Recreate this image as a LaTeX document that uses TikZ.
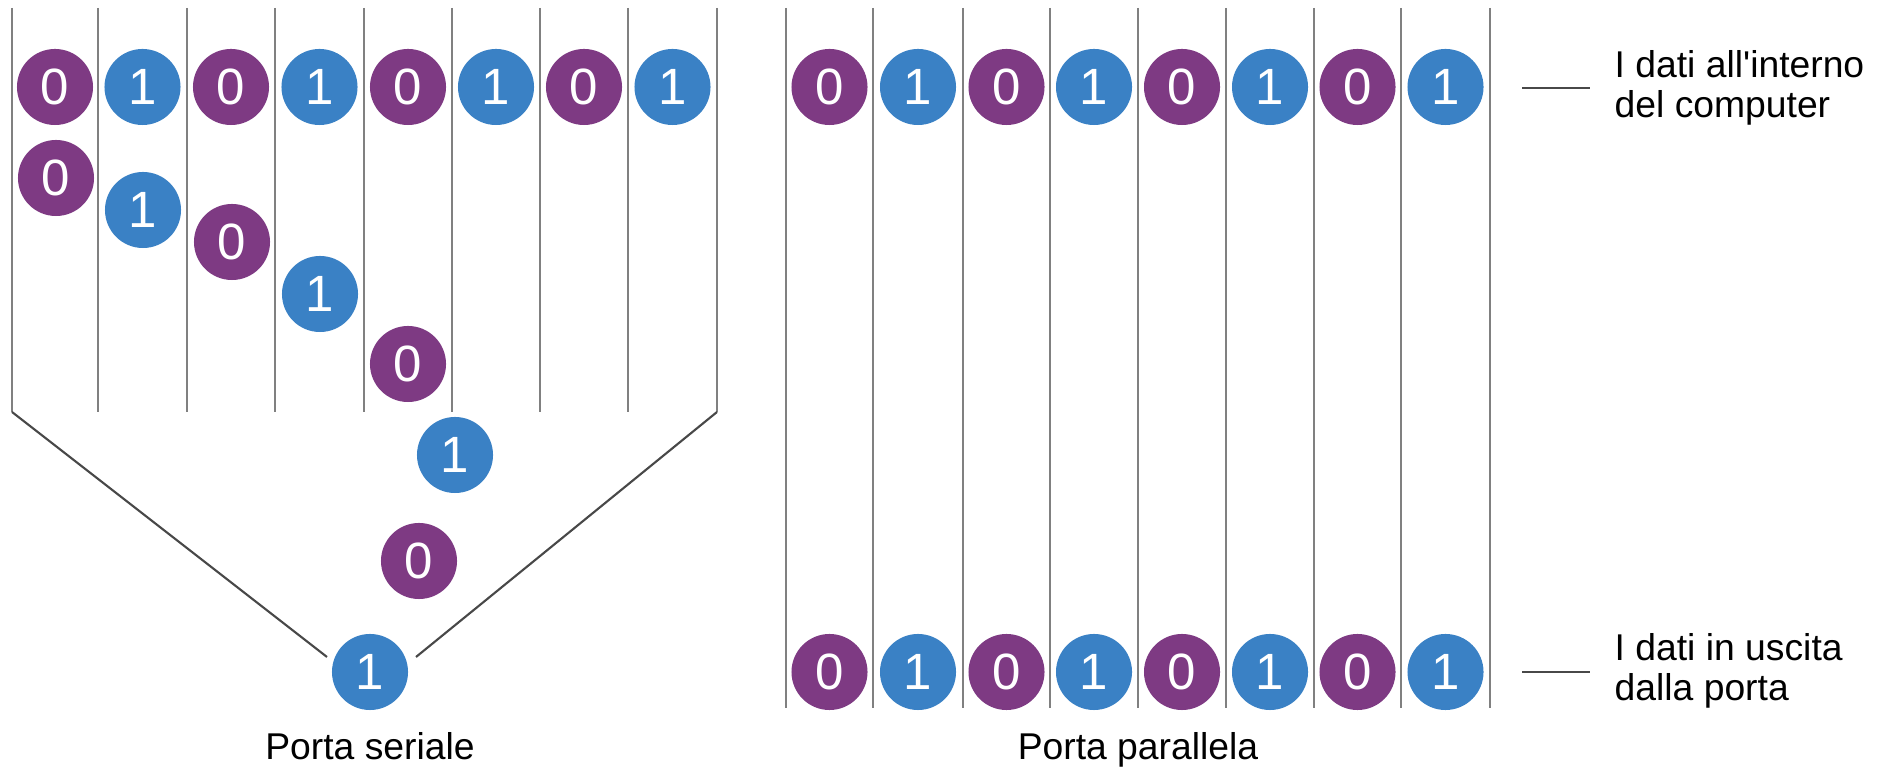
\documentclass[tikz,border=0pt]{standalone}
\usepackage{fontspec}
\setmainfont{Liberation Sans}

% bit colours and line greys
\definecolor{bitzero}{RGB}{126,58,131}
\definecolor{bitone}{RGB}{58,129,197}
\definecolor{wire}{RGB}{128,128,128}
\definecolor{edge}{RGB}{72,72,72}

\tikzset{
  bit/.style={circle, minimum size=7.6mm, inner sep=0pt, text=white,
              font=\fontsize{14.5}{16}\selectfont},
  b0/.style={bit, fill=bitzero},
  b1/.style={bit, fill=bitone},
  wireline/.style={draw=wire, line width=0.8pt},
  funnel/.style={draw=edge, line width=0.6pt},
  tick/.style={draw=edge, line width=0.7pt},
  caption/.style={font=\fontsize{10.6}{12}\selectfont, anchor=base, inner sep=0pt},
  note/.style={font=\fontsize{10.6}{11.4}\selectfont, align=left,
               anchor=north west, inner sep=0pt},
}

\begin{document}
\begin{tikzpicture}[x=0.01cm, y=-0.01cm]
  \useasboundingbox (0,0) rectangle (1894,771);

  % ---------- serial port ----------
  % inner channel walls
  \foreach \x [count=\i] in {98,187,275,364,452,540,628} {
    \coordinate (sw\i a) at (\x,8);
    \coordinate (sw\i b) at (\x,412);
    \draw[wireline] (sw\i a) -- (sw\i b);
  }
  % outer walls narrowing into the funnel
  \coordinate (sLa) at (12,8);
  \coordinate (sLb) at (12,412);
  \coordinate (sLc) at (327,657);
  \coordinate (sRa) at (717,8);
  \coordinate (sRb) at (717,412);
  \coordinate (sRc) at (416,657);
  \draw[wireline] (sLa) -- (sLb);
  \draw[wireline] (sRa) -- (sRb);
  \draw[funnel] (sLb) -- (sLc);
  \draw[funnel] (sRb) -- (sRc);

  % byte inside the computer
  \foreach \x/\b [count=\i] in {55/0,142.5/1,231/0,319.5/1,408/0,496/1,584/0,672.5/1}
    \node[b\b] (st\i) at (\x,87) {\b};

  % bits leaving one after another
  \foreach \x/\y/\b [count=\i] in {56/178/0,143/210/1,232/242/0,320/294/1,
                                    408/364/0,455/455/1,419/561/0,370/672/1}
    \node[b\b] (sq\i) at (\x,\y) {\b};

  \node[caption] (serlabel) at (370,760) {Porta seriale};

  % ---------- parallel port ----------
  \foreach \x [count=\i] in {786,873,963,1050,1138,1226,1314,1401,1490} {
    \coordinate (pw\i a) at (\x,8);
    \coordinate (pw\i b) at (\x,708);
    \draw[wireline] (pw\i a) -- (pw\i b);
  }
  \foreach \x/\b [count=\i] in {829.5/0,918/1,1006.5/0,1094/1,1182/0,1270/1,1357.5/0,1445.5/1} {
    \node[b\b] (pt\i) at (\x,87) {\b};
    \node[b\b] (pb\i) at (\x,672) {\b};
  }

  \node[caption] (parlabel) at (1138,760) {Porta parallela};

  % ---------- legend ----------
  \coordinate (k1a) at (1522,88);
  \coordinate (k1b) at (1590,88);
  \coordinate (k2a) at (1522,672);
  \coordinate (k2b) at (1590,672);
  \draw[tick] (k1a) -- (k1b);
  \draw[tick] (k2a) -- (k2b);
  \node[note] (inside) at (1614,50) {I dati all\textquotesingle interno\\del computer};
  \node[note] (outside) at (1614,632.5) {I dati in uscita\\dalla porta};
\end{tikzpicture}
\end{document}
